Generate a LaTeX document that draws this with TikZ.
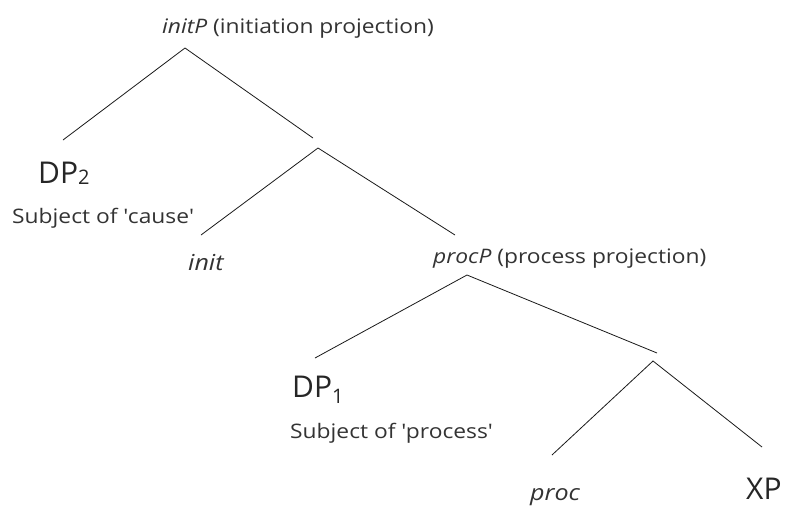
\documentclass[tikz,border=0pt]{standalone}
\usepackage{fontspec}
\setmainfont[FakeStretch=1.14]{Open Sans}
\newfontfamily\bigfont{Open Sans}
\begin{document}
\begin{tikzpicture}[x=1pt,y=-1pt,
  lbl/.style={inner sep=0pt,anchor=base west,text=black!80,font=\fontsize{20}{24}\selectfont},
  ital/.style={inner sep=0pt,anchor=base west,text=black!80,font=\fontsize{22}{26}\selectfont\itshape},
  big/.style={inner sep=0pt,anchor=base west,text=black!85,font=\bigfont\fontsize{30}{34}\selectfont},
  br/.style={draw=black!90,line width=0.8pt}]
\useasboundingbox (0,0) rectangle (788,509);
\node[lbl] (initP) at (162,33) {\textit{initP} (initiation projection)};
\coordinate (a1) at (185,48);
\coordinate (a1l) at (63,140);
\coordinate (a1r) at (313,138);
\draw[br] (a1l) -- (a1) -- (a1r);
\node[big] (dp2) at (38,183) {DP\raisebox{-1pt}{\fontsize{20}{24}\selectfont 2}};
\node[lbl] (sc) at (12,223) {Subject of \textquotesingle cause\textquotesingle};
\coordinate (n1) at (318,148);
\coordinate (n1l) at (201,235);
\coordinate (n1r) at (455,235);
\draw[br] (n1l) -- (n1) -- (n1r);
\node[ital] (init) at (188,270) {init};
\node[lbl] (procP) at (433,263) {\textit{procP} (process projection)};
\coordinate (a2) at (467,275);
\coordinate (a2l) at (315,358);
\coordinate (a2r) at (657,353);
\draw[br] (a2l) -- (a2) -- (a2r);
\node[big] (dp1) at (292,397) {DP\raisebox{-6pt}{\fontsize{20}{24}\selectfont 1}};
\node[lbl] (sp) at (290,438) {Subject of \textquotesingle process\textquotesingle};
\coordinate (n2) at (653,361);
\coordinate (n2l) at (552,455);
\coordinate (n2r) at (762,447);
\draw[br] (n2l) -- (n2) -- (n2r);
\node[ital] (proc) at (530,500) {proc};
\node[big] (xp) at (746,499) {XP};
\end{tikzpicture}
\end{document}
